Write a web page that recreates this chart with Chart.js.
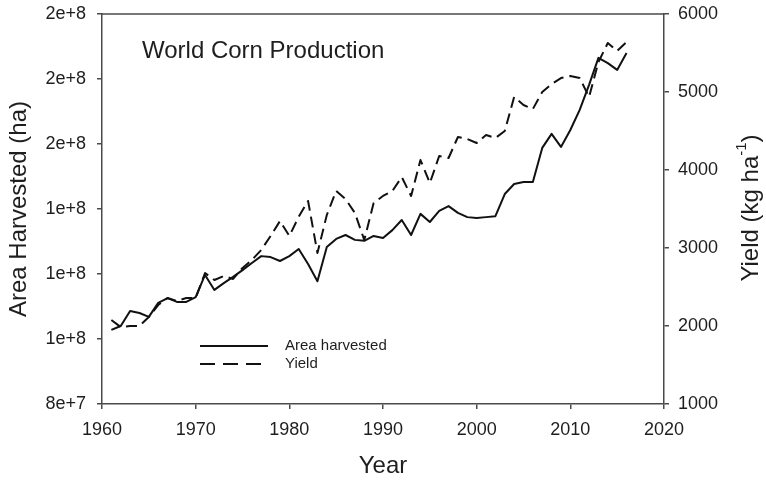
<!DOCTYPE html>
<html><head><meta charset="utf-8">
<script src="https://cdn.jsdelivr.net/npm/chart.js@4/dist/chart.umd.min.js"></script>
<style>html,body{margin:0;padding:0;background:#fff}#wrap{width:766px;height:482px;position:relative}</style>
</head><body><div id="wrap"><canvas id="c"></canvas></div>
<script>
// ---- data ----
const years = [1961,1962,1963,1964,1965,1966,1967,1968,1969,1970,1971,1972,1973,1974,1975,1976,1977,1978,1979,1980,
  1981,1982,1983,1984,1985,1986,1987,1988,1989,1990,1991,1992,1993,1994,1995,1996,1997,1998,1999,2000,
  2001,2002,2003,2004,2005,2006,2007,2008,2009,2010,2011,2012,2013,2014,2015,2016];
const areaHarvested = [102.8e6,104.0e6,108.6e6,108.0e6,106.8e6,111.1e6,112.6e6,111.4e6,111.4e6,112.9e6,
  119.7e6,115.1e6,117.2e6,119.1e6,121.2e6,123.4e6,125.5e6,125.2e6,124.0e6,125.5e6,
  127.7e6,123.1e6,117.8e6,128.3e6,130.8e6,132.0e6,130.5e6,130.2e6,131.7e6,131.1e6,
  133.5e6,136.6e6,132.0e6,138.5e6,136.0e6,139.4e6,140.9e6,138.8e6,137.5e6,137.2e6,
  137.5e6,137.8e6,144.6e6,147.7e6,148.3e6,148.3e6,158.8e6,163.1e6,159.1e6,164.3e6,
  170.5e6,178.2e6,186.5e6,184.9e6,182.8e6,188.0e6];
const yieldKgHa = [2077,1987,2000,2000,2115,2269,2359,2321,2359,2359,
  2679,2590,2641,2603,2744,2846,2974,3154,3346,3154,
  3400,3603,2936,3423,3731,3628,3449,3103,3577,3667,
  3731,3910,3667,4128,3833,4179,4154,4423,4397,4346,
  4449,4410,4500,4936,4833,4782,5000,5103,5179,5205,
  5179,4936,5385,5628,5526,5641];
const xTickValues = [1960,1970,1980,1990,2000,2010,2020];
const areaTickValues = [80e6,100e6,120e6,140e6,160e6,180e6,200e6];
const yieldTickValues = [1000,2000,3000,4000,5000,6000];
const seriesLabels = ['Area harvested','Yield'];
const chartTitle = 'World Corn Production';
const xTitle = 'Year';
const leftTitle = 'Area Harvested (ha)';
const rightTitleMain = 'Yield (kg ha';
const rightTitleSup = '-1';
const rightTitleEnd = ')';

// ---- style ----
const FONT = '"Liberation Sans", Arial, Helvetica, sans-serif';
const TEXT = '#1e1e1e';
const AXIS = '#4a4a4a';
const LINE = '#111111';
const DASH = [11, 6];

const areaPts = years.map((y, i) => ({x: y, y: areaHarvested[i]}));
const yieldPts = years.map((y, i) => ({x: y, y: yieldKgHa[i]}));

const decor = {
  id: 'decor',
  afterDraw(chart) {
    const {ctx, chartArea: a} = chart;
    ctx.save();
    // top frame line
    ctx.strokeStyle = AXIS; ctx.lineWidth = 1.5;
    ctx.beginPath(); ctx.moveTo(a.left - 0.75, a.top); ctx.lineTo(a.right + 0.75, a.top); ctx.stroke();
    // inner title
    ctx.fillStyle = TEXT;
    ctx.font = '24px ' + FONT;
    ctx.textAlign = 'left'; ctx.textBaseline = 'middle';
    ctx.fillText(chartTitle, 142, 51);
    // legend
    const lx0 = 200, lx1 = 268, ly = [346, 364];
    ctx.strokeStyle = LINE; ctx.lineWidth = 2;
    ctx.setLineDash([]);
    ctx.beginPath(); ctx.moveTo(lx0, ly[0]); ctx.lineTo(lx1, ly[0]); ctx.stroke();
    ctx.setLineDash([15, 8]);
    ctx.beginPath(); ctx.moveTo(lx0, ly[1]); ctx.lineTo(lx1 - 7, ly[1]); ctx.stroke();
    ctx.setLineDash([]);
    ctx.font = '15px ' + FONT;
    ctx.fillStyle = TEXT;
    ctx.fillText(seriesLabels[0], 285, ly[0]);
    ctx.fillText(seriesLabels[1], 285, ly[1]);
    // right axis title (reads bottom-to-top, with superscript)
    ctx.translate(750, 208);
    ctx.rotate(-Math.PI / 2);
    const fMain = '24px ' + FONT, fSup = '15px ' + FONT;
    ctx.font = fMain; const w1 = ctx.measureText(rightTitleMain).width;
    const w3 = ctx.measureText(rightTitleEnd).width;
    ctx.font = fSup; const w2 = ctx.measureText(rightTitleSup).width;
    let x = -(w1 + w2 + w3) / 2;
    ctx.textBaseline = 'alphabetic';
    ctx.font = fMain; ctx.fillText(rightTitleMain, x, 8); x += w1;
    ctx.font = fSup; ctx.fillText(rightTitleSup, x, -4); x += w2;
    ctx.font = fMain; ctx.fillText(rightTitleEnd, x, 8);
    ctx.restore();
  }
};

function fitY(s) { s.width = 102; s.paddingTop = 0; s.paddingBottom = 0; }

new Chart(document.getElementById('c'), {
  type: 'line',
  data: {
    datasets: [
      {label: seriesLabels[0], data: areaPts, yAxisID: 'yArea', borderColor: LINE, borderWidth: 2,
       pointRadius: 0, tension: 0, fill: false, borderJoinStyle: 'round'},
      {label: seriesLabels[1], data: yieldPts, yAxisID: 'yYield', borderColor: LINE, borderWidth: 2,
       borderDash: DASH, pointRadius: 0, tension: 0, fill: false, borderJoinStyle: 'round'}
    ]
  },
  options: {
    responsive: true, maintainAspectRatio: false, animation: false,
    layout: {padding: {top: 14, left: 0, right: 0, bottom: 0}},
    plugins: {legend: {display: false}, tooltip: {enabled: false}, title: {display: false}},
    scales: {
      x: {
        type: 'linear', position: 'bottom', min: 1960, max: 2020,
        afterBuildTicks(s) { s.ticks = xTickValues.map(v => ({value: v})); },
        afterFit(s) { s.height = 78; s.paddingLeft = 0; s.paddingRight = 0; },
        ticks: {color: TEXT, font: {family: FONT, size: 18}, padding: 10, maxRotation: 0,
                callback: v => String(v)},
        grid: {display: true, drawOnChartArea: false, drawTicks: true, tickLength: 5, color: AXIS, lineWidth: 1.5},
        border: {display: true, color: AXIS, width: 1.5},
        title: {display: true, text: xTitle, color: TEXT, font: {family: FONT, size: 24}, padding: {top: 0, bottom: 1}}
      },
      yArea: {
        type: 'linear', position: 'left', min: 80e6, max: 200e6,
        afterBuildTicks(s) { s.ticks = areaTickValues.map(v => ({value: v})); },
        afterFit: fitY,
        ticks: {color: TEXT, font: {family: FONT, size: 18}, padding: 11,
                callback: v => Number(v).toExponential(0)},
        grid: {display: true, drawOnChartArea: false, drawTicks: true, tickLength: 5, color: AXIS, lineWidth: 1.5},
        border: {display: true, color: AXIS, width: 1.5},
        title: {display: true, text: leftTitle, color: TEXT, font: {family: FONT, size: 24}, padding: {top: 5, bottom: 0}}
      },
      yYield: {
        type: 'linear', position: 'right', min: 1000, max: 6000,
        afterBuildTicks(s) { s.ticks = yieldTickValues.map(v => ({value: v})); },
        afterFit: fitY,
        ticks: {color: TEXT, font: {family: FONT, size: 18}, padding: 9, callback: v => String(v)},
        grid: {display: true, drawOnChartArea: false, drawTicks: true, tickLength: 5, color: AXIS, lineWidth: 1.5},
        border: {display: true, color: AXIS, width: 1.5},
        title: {display: false}
      }
    }
  },
  plugins: [decor]
});
</script>
</body></html>
